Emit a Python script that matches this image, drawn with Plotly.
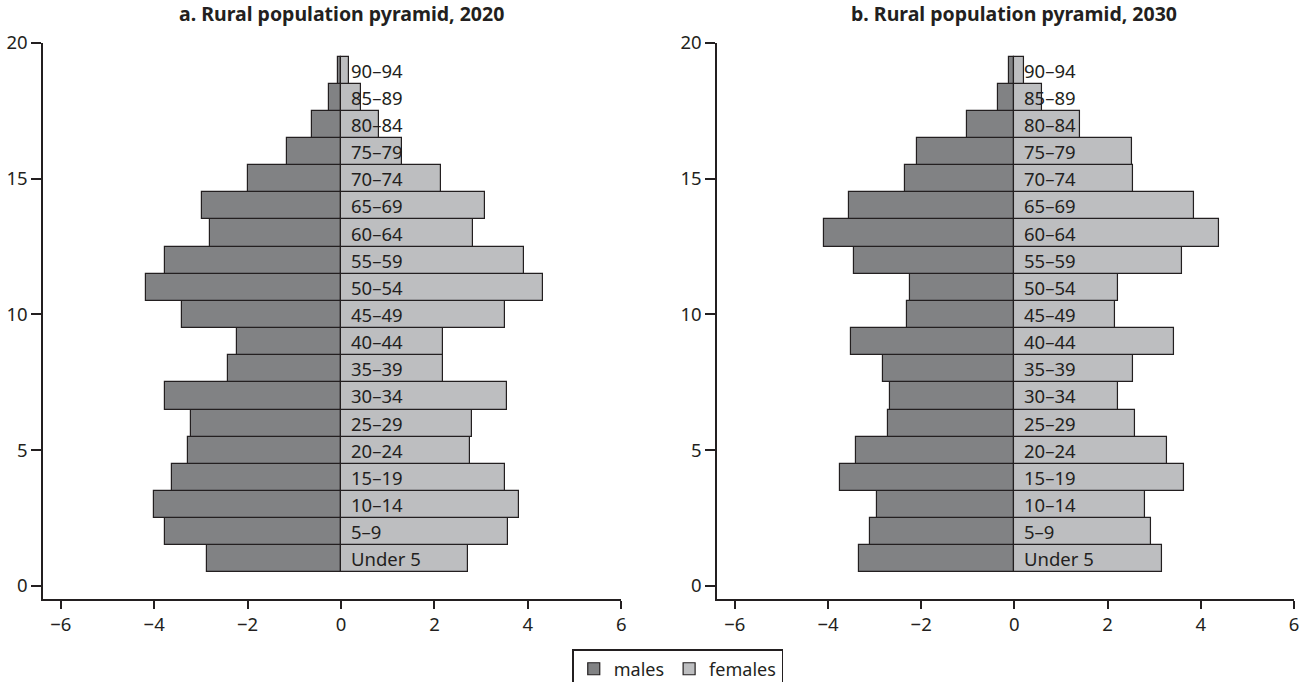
import plotly.graph_objects as go

age_groups = ["Under 5", "5–9", "10–14", "15–19", "20–24", "25–29", "30–34",
              "35–39", "40–44", "45–49", "50–54", "55–59", "60–64", "65–69",
              "70–74", "75–79", "80–84", "85–89", "90–94"]
positions = list(range(1, 20))

males_2020 = [-2.87, -3.77, -4.00, -3.61, -3.27, -3.21, -3.77, -2.41, -2.23, -3.41,
              -4.17, -3.77, -2.80, -2.98, -1.99, -1.15, -0.63, -0.26, -0.07]
females_2020 = [2.71, 3.57, 3.81, 3.52, 2.76, 2.80, 3.55, 2.18, 2.18, 3.52,
                4.33, 3.92, 2.82, 3.08, 2.13, 1.31, 0.82, 0.42, 0.16]

males_2030 = [-3.33, -3.10, -2.95, -3.74, -3.40, -2.72, -2.67, -2.81, -3.51, -2.31,
              -2.23, -3.43, -4.08, -3.54, -2.35, -2.08, -1.01, -0.35, -0.12]
females_2030 = [3.16, 2.93, 2.81, 3.63, 3.28, 2.58, 2.23, 2.55, 3.43, 2.17,
                2.23, 3.60, 4.39, 3.86, 2.55, 2.53, 1.40, 0.59, 0.20]

titles = ["a. Rural population pyramid, 2020", "b. Rural population pyramid, 2030"]
x_ticks = [-6, -4, -2, 0, 2, 4, 6]
y_ticks = [0, 5, 10, 15, 20]

INK = "#231f20"
MALE = "#818284"
FEMALE = "#bdbec0"
FONT = "Noto Sans"

fig = go.Figure()

panels = [(males_2020, females_2020, "x", "y"), (males_2030, females_2030, "x2", "y2")]
for i, (m, f, xa, ya) in enumerate(panels):
    fig.add_trace(go.Bar(x=m, y=positions, orientation="h", width=1,
                         name="males", legendgroup="males", showlegend=(i == 0),
                         marker=dict(color=MALE, line=dict(color=INK, width=1.2)),
                         xaxis=xa, yaxis=ya))
    fig.add_trace(go.Bar(x=f, y=positions, orientation="h", width=1,
                         name="females", legendgroup="females", showlegend=(i == 0),
                         marker=dict(color=FEMALE, line=dict(color=INK, width=1.2)),
                         xaxis=xa, yaxis=ya))

annotations = []
for i, (xa, ya) in enumerate([("x", "y"), ("x2", "y2")]):
    for lab, p in zip(age_groups, positions):
        annotations.append(dict(x=0, y=p, xref=xa, yref=ya, text=lab, showarrow=False,
                                xanchor="left", yanchor="middle", xshift=8,
                                font=dict(family=FONT, size=18.5, color=INK)))
    annotations.append(dict(x=0, y=1.0527, xref=xa, yref="paper", text="<b>" + titles[i] + "</b>",
                            showarrow=False, xanchor="center", yanchor="middle",
                            font=dict(family=FONT, size=19.5, color=INK)))

axis_common = dict(showline=True, linecolor=INK, linewidth=1.5, ticks="outside",
                   tickcolor=INK, tickwidth=1.5, showgrid=False, zeroline=False,
                   ticklabeloverflow="allow",
                   tickfont=dict(family=FONT, size=18.5, color=INK))

fig.update_layout(
    barmode="relative",
    bargap=0,
    width=1301, height=682,
    margin=dict(l=43, r=7, t=43, b=83, autoexpand=False),
    paper_bgcolor="white", plot_bgcolor="white",
    font=dict(family=FONT, size=18, color=INK),
    xaxis=dict(domain=[0, 0.4623], range=[-6.38, 6], tickvals=x_ticks, ticklen=8,
               anchor="y", **axis_common),
    yaxis=dict(domain=[0, 1], range=[-0.48, 20], tickvals=y_ticks, ticklen=10,
               anchor="x", **axis_common),
    xaxis2=dict(domain=[0.5388, 1], range=[-6.38, 6], tickvals=x_ticks, ticklen=8,
                anchor="y2", **axis_common),
    yaxis2=dict(domain=[0, 1], range=[-0.48, 20], tickvals=y_ticks, ticklen=10,
                anchor="x2", **axis_common),
    legend=dict(orientation="h", x=0.5074, xanchor="center", y=-0.09, yanchor="top",
                bordercolor=INK, borderwidth=1.5, bgcolor="white", itemwidth=30,
                font=dict(family=FONT, size=18, color=INK), traceorder="normal"),
    annotations=annotations,
    showlegend=True,
)

fig.write_html("out.html", config={"displayModeBar": False},
               post_script="document.body.style.margin='0';document.body.style.overflow='hidden';")
